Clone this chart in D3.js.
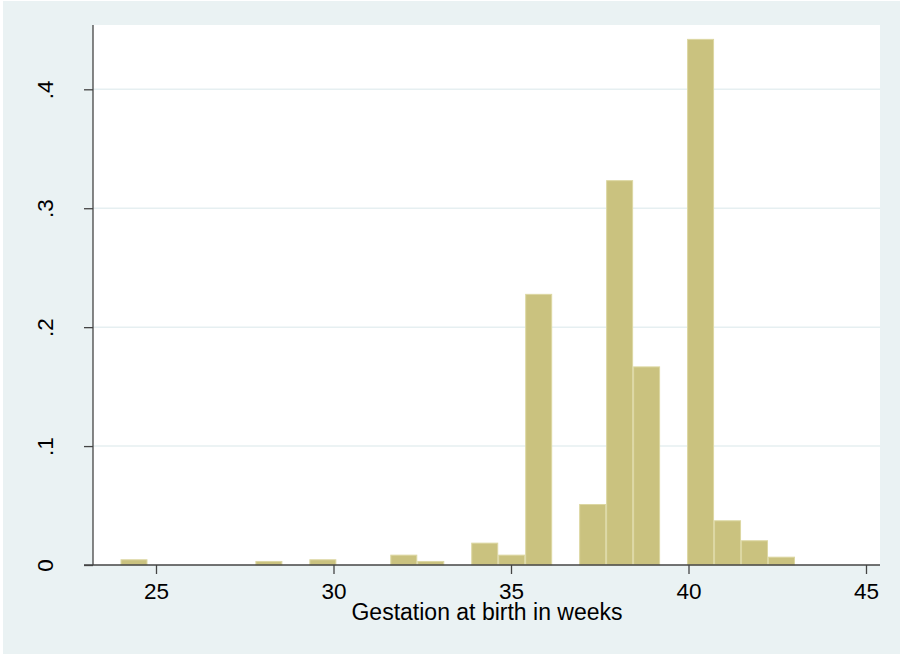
<!DOCTYPE html>
<html>
<head>
<meta charset="utf-8">
<script src="https://cdn.jsdelivr.net/npm/d3@7"></script>
<style>
  body { margin: 0; background: #fff; }
  text { font-family: "Liberation Sans", Arial, sans-serif; fill: #000; }
</style>
</head>
<body>
<svg id="chart" width="902" height="654"></svg>
<script>
// histogram bins: start 24, width 0.76 weeks (25 bins)
var binStart = 24
var binWidth = 0.76
var density = [0.0048, 0, 0, 0, 0, 0.0034, 0, 0.0048, 0, 0,
               0.0087, 0.0034, 0, 0.0188, 0.0087, 0.228, 0, 0.0513, 0.3236, 0.167,
               0, 0.4424, 0.0376, 0.0208, 0.007]
var xTicks = [25, 30, 35, 40, 45]
var yTicks = [0, 0.1, 0.2, 0.3, 0.4]
var yTickLabels = ["0", ".1", ".2", ".3", ".4"]
var xTitle = "Gestation at birth in weeks"

var svg = d3.select("#chart")
var plotLeft = 93, plotRight = 880, plotTop = 25, plotBottom = 565

// outer graph region
svg.append("rect")
  .attr("x", 3).attr("y", 1)
  .attr("width", 897).attr("height", 653)
  .style("fill", "#eaf2f3")

// plot region
svg.append("rect")
  .attr("x", plotLeft).attr("y", plotTop)
  .attr("width", plotRight - plotLeft).attr("height", plotBottom - plotTop)
  .style("fill", "#ffffff")

var xScale = d3.scaleLinear().domain([25, 45]).range([156, 866])
var yScale = d3.scaleLinear().domain([0, 0.4]).range([plotBottom, 89.3])

// gridlines
svg.append("g")
  .selectAll("line")
  .data(yTicks.slice(1))
  .enter()
  .append("line")
  .attr("x1", plotLeft).attr("x2", plotRight)
  .attr("y1", function (d) { return yScale(d) })
  .attr("y2", function (d) { return yScale(d) })
  .style("stroke", "#e6eff1")
  .style("stroke-width", 1.5)

// bars
var bins = density.map(function (v, i) {
  return { x0: binStart + i * binWidth, x1: binStart + (i + 1) * binWidth, v: v }
}).filter(function (d) { return d.v > 0 })

svg.append("g")
  .selectAll("rect")
  .data(bins)
  .enter()
  .append("rect")
  .attr("x", function (d) { return xScale(d.x0) + 0.5 })
  .attr("y", function (d) { return yScale(d.v) + 0.5 })
  .attr("width", function (d) { return xScale(d.x1) - xScale(d.x0) - 1 })
  .attr("height", function (d) { return yScale(0) - yScale(d.v) - 0.5 })
  .style("fill", "#cac27f")
  .style("stroke", "#dcd7a2")
  .style("stroke-width", 1)

// x axis
var xAxis = svg.append("g")
  .attr("transform", "translate(0," + plotBottom + ")")
  .call(d3.axisBottom(xScale).tickValues(xTicks).tickSize(9).tickPadding(9).tickFormat(d3.format("d")))
xAxis.select(".domain").remove()
xAxis.append("line")
  .attr("x1", 84).attr("x2", plotRight).attr("y1", 0).attr("y2", 0)
  .style("stroke", "#444").style("stroke-width", 1.3)
xAxis.selectAll(".tick line").style("stroke", "#444").style("stroke-width", 1.3)
xAxis.selectAll(".tick text")
  .style("font-size", "22.5px")
  .style("font-family", "Liberation Sans, Arial, sans-serif")
  .attr("fill", "#000")

// y axis
var yAxis = svg.append("g")
  .attr("transform", "translate(" + plotLeft + ",0)")
  .call(d3.axisLeft(yScale).tickValues(yTicks).tickSize(9).tickFormat(function (d, i) { return yTickLabels[i] }))
yAxis.select(".domain").remove()
yAxis.append("line")
  .attr("x1", 0).attr("x2", 0).attr("y1", plotTop).attr("y2", plotBottom)
  .style("stroke", "#444").style("stroke-width", 1.3)
yAxis.selectAll(".tick line").style("stroke", "#444").style("stroke-width", 1.3)
yAxis.selectAll(".tick text")
  .attr("x", null).attr("dy", null)
  .attr("transform", "translate(-40,0) rotate(-90)")
  .attr("text-anchor", "middle")
  .style("font-size", "22.5px")
  .style("font-family", "Liberation Sans, Arial, sans-serif")
  .attr("fill", "#000")

// x title
svg.append("text")
  .attr("x", 487)
  .attr("y", 620)
  .attr("text-anchor", "middle")
  .style("font-size", "23px")
  .text(xTitle)
</script>
</body>
</html>
